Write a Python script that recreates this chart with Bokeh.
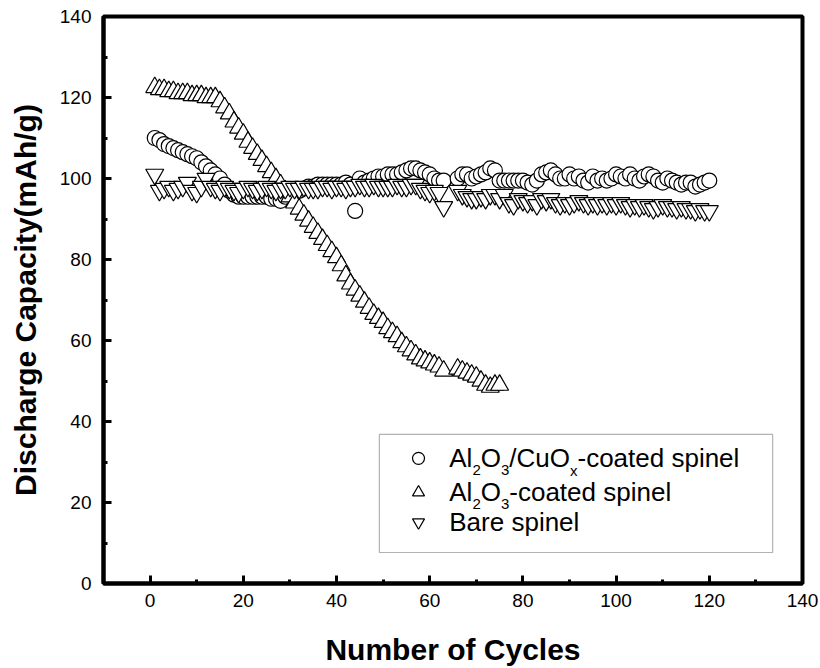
from bokeh.plotting import figure
from bokeh.models import Range1d, FixedTicker, Label, BoxAnnotation
from bokeh.embed import file_html
from bokeh.resources import INLINE

# ---- data: discharge capacity (mAh/g) per cycle ----
cycles_cuox = list(range(1, 64)) + list(range(66, 121))
cap_cuox = [
    110, 109.5, 108.5, 108, 107.5, 107, 106.5, 106, 105.5, 105,
    104, 103, 102, 101, 100, 98.5, 97, 96, 95.5, 95.5,
    95.5, 95.5, 95.5, 95.5, 95.5, 95, 95, 94.5, 95.5, 96,
    96.5, 97, 97.5, 98, 98, 98.5, 98.5, 98.5, 98.5, 98.5,
    98.5, 99, 98.5, 92, 100, 99, 99.5, 100, 100.5, 100.5,
    101, 101, 101, 101.5, 102, 102.5, 102.5, 102, 101.5, 101,
    100, 99.5, 99.5,
    100, 101, 101, 100, 100.5,
    101, 101.5, 102.5, 102, 99.5, 99.5, 99.5, 99.5, 99.5, 99.5,
    99, 98.5, 99.5, 101, 101.5, 102, 101, 100, 100, 101,
    100, 100.5, 99.5, 99, 100.5, 99.5, 100, 99.5, 100, 101,
    100.5, 100, 101, 100, 99.5, 100.5, 101, 100.5, 99.5, 99,
    100, 99.5, 99, 98.5, 99, 99, 98, 98.5, 99, 99.5,
]

cycles_al2o3 = list(range(1, 64)) + list(range(66, 76))
cap_al2o3 = [
    122.5, 122, 122, 121.5, 121.5, 121, 121, 121, 120.5, 120.5,
    120.5, 120, 120, 120, 119, 117.5, 116, 114, 112.5, 111,
    109, 107.5, 106, 104.5, 103, 101.5, 100, 98.5, 97, 95.5,
    94, 92.5, 91, 89.5, 88, 86.5, 85, 83.5, 82, 80.5,
    78.5, 76, 74, 72.5, 71, 69.5, 68, 66.5, 65.5, 64.5,
    63, 62, 61, 59.5, 58.5, 57.5, 56.5, 55.5, 55, 54.5,
    54, 53.5, 52.5,
    53, 52.5, 52, 51.5, 51, 50, 49, 48.5, 49, 49,
]

cycles_bare = list(range(1, 64)) + list(range(66, 121))
cap_bare = [
    101, 97, 97.5, 98, 97, 97.5, 98, 99, 97, 96.5,
    98, 100, 98, 97.5, 97, 98, 97.5, 97, 96.5, 97.5,
    98, 97.5, 97, 97.5, 98, 97.5, 97, 97.5, 97.5, 98,
    97.5, 97.5, 98, 97.5, 97.5, 97.5, 98, 98, 97.5, 98,
    98, 97.5, 98, 98, 98.5, 98, 98, 98.5, 98, 98,
    98, 98, 98.5, 98, 98, 98.5, 98.5, 97.5, 97, 96.5,
    97, 96.5, 93,
    97, 96, 95.5, 95, 95,
    95.5, 95, 96, 96, 95, 96, 94, 93.5, 95, 94.5,
    94, 94.5, 93.5, 95, 94.5, 95, 94, 93.5, 94, 93.5,
    94, 94.5, 94, 93.5, 94, 93.5, 94, 93.5, 94, 93.5,
    94, 93.5, 93, 93.5, 93, 93.5, 93, 92.5, 93, 93.5,
    93, 93, 92.5, 93, 92.5, 92.5, 92, 92.5, 92, 92,
]

x_ticks = [0, 20, 40, 60, 80, 100, 120, 140]
x_minor = [10, 30, 50, 70, 90, 110, 130]
y_ticks = [0, 20, 40, 60, 80, 100, 120, 140]
y_minor = [10, 30, 50, 70, 90, 110, 130]

FONT = "Liberation Sans"

p = figure(
    width=820, height=668,
    x_range=Range1d(-10, 140), y_range=Range1d(0, 140),
    output_backend="svg", toolbar_location=None,
    min_border_left=103, min_border_right=18,
    min_border_top=16, min_border_bottom=85,
)
p.xgrid.visible = False
p.ygrid.visible = False
p.outline_line_color = "black"
p.outline_line_width = 4
p.background_fill_color = "white"
p.border_fill_color = "white"

p.xaxis.ticker = FixedTicker(ticks=x_ticks, minor_ticks=x_minor)
p.yaxis.ticker = FixedTicker(ticks=y_ticks, minor_ticks=y_minor)
p.xaxis.axis_label = "Number of Cycles"
p.yaxis.axis_label = "Discharge Capacity(mAh/g)"

for ax in (p.xaxis[0], p.yaxis[0]):
    ax.axis_line_width = 4
    ax.axis_line_color = "black"
    ax.major_tick_in = 8
    ax.major_tick_out = 0
    ax.minor_tick_in = 4
    ax.minor_tick_out = 0
    ax.major_tick_line_width = 3
    ax.minor_tick_line_width = 3
    ax.major_tick_line_color = "black"
    ax.minor_tick_line_color = "black"
    ax.major_label_text_font = FONT
    ax.major_label_text_font_size = "19px"
    ax.major_label_text_color = "black"
    ax.axis_label_text_font = FONT
    ax.axis_label_text_font_size = "30px"
    ax.axis_label_text_font_style = "bold"
    ax.axis_label_text_color = "black"

p.xaxis.major_label_standoff = 10
p.yaxis.major_label_standoff = 12
p.xaxis.axis_label_standoff = 23
p.yaxis.axis_label_standoff = 15

# ---- series ----
MARK = dict(fill_color="white", line_color="black", line_width=1.2)
p.scatter(cycles_cuox, cap_cuox, marker="circle", size=15, **MARK)
p.scatter(cycles_al2o3, cap_al2o3, marker="triangle", size=18, **MARK)
p.scatter(cycles_bare, cap_bare, marker="inverted_triangle", size=18, **MARK)

# ---- legend (drawn by hand so the chemical formulas get subscripts) ----
box = BoxAnnotation(left=49.2, right=133.6, top=36.8, bottom=7.65,
                    fill_color="white", fill_alpha=1.0,
                    line_color="black", line_width=1.2, level="underlay")
p.add_layout(box)

LEG_X = 57.6
TEXT_X = 64.2
ROW_Y = [30.9, 22.5, 15.1]
markers = ["circle", "triangle", "inverted_triangle"]
rows = [
    [("Al", 0), ("2", 1), ("O", 0), ("3", 1), ("/CuO", 0), ("x", 1), ("-coated spinel", 0)],
    [("Al", 0), ("2", 1), ("O", 0), ("3", 1), ("-coated spinel", 0)],
    [("Bare spinel", 0)],
]

# Arial / Liberation Sans advance widths (per 1000 em)
ADV = {"A": 667, "l": 222, "O": 778, "/": 278, "C": 722, "u": 556, "-": 333,
       "c": 500, "o": 556, "a": 556, "t": 278, "e": 556, "d": 556, " ": 278,
       "s": 500, "p": 556, "i": 222, "n": 556, "B": 667, "r": 333, "x": 500,
       "2": 556, "3": 556}
MAIN_PX = 26
SUB_PX = 15
MAIN_DY = 0
SUB_DY = -12

for mk, y, pieces in zip(markers, ROW_Y, rows):
    p.scatter([LEG_X], [y], marker=mk, size=12, fill_color="white",
              line_color="black", line_width=1.2)
    off = 0.0
    for txt, sub in pieces:
        fs = SUB_PX if sub else MAIN_PX
        lab = Label(x=TEXT_X, y=y, x_offset=off, y_offset=(SUB_DY if sub else MAIN_DY),
                    text=txt, text_font=FONT, text_font_size=f"{fs}px",
                    text_color="black", text_baseline="alphabetic",
                    text_align="left")
        p.add_layout(lab)
        off += sum(ADV.get(ch, 556) for ch in txt) * fs / 1000.0

open("out.html", "w").write(file_html(p, INLINE))
